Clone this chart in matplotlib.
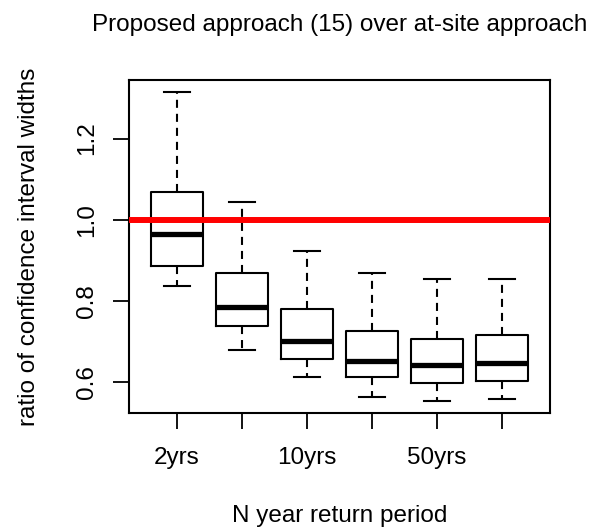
import matplotlib
matplotlib.use("Agg")
import matplotlib.pyplot as plt

plt.rcParams['font.family'] = ['Liberation Sans', 'DejaVu Sans']
plt.rcParams['lines.scale_dashes'] = False

categories = ["2yrs", "5yrs", "10yrs", "25yrs", "50yrs", "100yrs"]
shown_labels = ["2yrs", "", "10yrs", "", "50yrs", ""]
whisker_low = [0.837, 0.680, 0.612, 0.564, 0.554, 0.558]
q1 = [0.886, 0.739, 0.656, 0.613, 0.598, 0.603]
median = [0.966, 0.784, 0.701, 0.651, 0.643, 0.648]
q3 = [1.069, 0.868, 0.780, 0.726, 0.706, 0.716]
whisker_high = [1.314, 1.044, 0.922, 0.868, 0.853, 0.853]
reference_line = 1.0
yticks = [0.6, 0.8, 1.0, 1.2]

stats = []
for i, c in enumerate(categories):
    stats.append(dict(label=c, whislo=whisker_low[i], q1=q1[i], med=median[i],
                      q3=q3[i], whishi=whisker_high[i], fliers=[]))

fig = plt.figure(figsize=(5.96, 5.30), dpi=100)
ax = fig.add_axes([129/596, 1-413/530, (550-129)/596, (413-80)/530])

positions = list(range(1, len(categories) + 1))
lw = 1.5
ax.bxp(stats, positions=positions, widths=0.8, capwidths=0.4, showfliers=False,
       boxprops=dict(color='black', linewidth=lw),
       medianprops=dict(color='black', linewidth=3.8, solid_capstyle='butt'),
       whiskerprops=dict(color='black', linewidth=lw, linestyle=(0, (5.8, 4.3))),
       capprops=dict(color='black', linewidth=lw))

ax.axhline(reference_line, color='#ff0000', linewidth=4.3, zorder=5)

ax.set_xlim(0.26, 6.74)
ax.set_ylim(0.5236, 1.3444)
ax.set_xticks(positions)
ax.set_xticklabels(shown_labels)
ax.set_yticks(yticks)
ax.set_yticklabels([f"{v:.1f}" for v in yticks], rotation=90, va='center')

for s in ax.spines.values():
    s.set_linewidth(1.5)
fs = 17.5
ax.tick_params(axis='both', length=11.5, width=1.3, labelsize=fs, colors='black')
ax.tick_params(axis='x', pad=13)
ax.tick_params(axis='y', pad=11)

ax.set_title("Proposed approach (15) over at-site approach", fontsize=fs, pad=35)
ax.set_xlabel("N year return period", fontsize=fs, labelpad=26)
ax.set_ylabel("ratio of confidence interval widths", fontsize=fs, labelpad=26)

fig.savefig("out.png", dpi=100)
